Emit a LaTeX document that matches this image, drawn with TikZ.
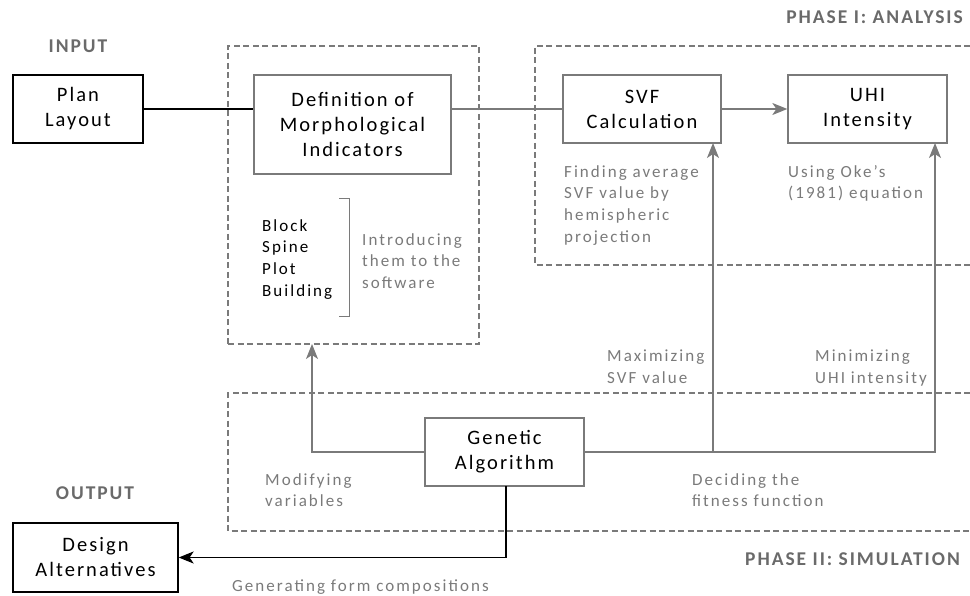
\documentclass[tikz,border=0pt]{standalone}
\usepackage{fontspec}
\setmainfont{Carlito}
\newfontfamily\boxfont[LetterSpace=10]{Carlito}
\newfontfamily\notefont[LetterSpace=12]{Carlito}
\newfontfamily\headfont[LetterSpace=10]{Carlito Bold}
\usetikzlibrary{arrows.meta}
\definecolor{lgray}{HTML}{7A7A7A}
\definecolor{dgray}{HTML}{6A6A6A}
\tikzset{
  blackbox/.style={draw=black, line width=1.3pt, minimum width=#1, align=center, inner sep=0pt,
    font=\boxfont\fontsize{20.5}{25}\selectfont},
  graybox/.style={draw=lgray, line width=1.3pt, minimum width=#1, align=center, inner sep=0pt,
    font=\boxfont\fontsize{20.5}{25}\selectfont},
  note/.style={anchor=north west, align=left, inner sep=0pt, text=lgray,
    font=\notefont\fontsize{17}{21.7}\selectfont},
  head/.style={inner sep=0pt, text=dgray, font=\headfont\fontsize{19.5}{22}\selectfont},
  dashbox/.style={draw=lgray, line width=1.2pt, dash pattern=on 6pt off 3.5pt},
  gline/.style={draw=lgray, line width=1.3pt},
  garrow/.style={gline, -{Stealth[length=15pt,width=12pt,inset=4pt]}},
  barrow/.style={draw=black, line width=1.3pt, -{Stealth[length=15pt,width=12pt,inset=4pt]}},
}
\begin{document}
\begin{tikzpicture}[x=1pt,y=-1pt]
\useasboundingbox (0,0) rectangle (970,596);
% dashed regions
\node[dashbox, minimum width=251pt, minimum height=298pt, inner sep=0pt] (box1) at (353.5,195) {};
\draw[dashbox] (970,46) -- (535,46) -- (535,265) -- (970,265);
\draw[dashbox] (970,393) -- (228,393) -- (228,531) -- (970,531);
% headers
\node[head] (hin) at (78,46) {INPUT};
\node[head] (hout) at (95,493) {OUTPUT};
\node[head, anchor=east] (hp1) at (963,17) {PHASE I: ANALYSIS};
\node[head, anchor=east] (hp2) at (960,559) {PHASE II: SIMULATION};
% boxes
\node[blackbox=130pt, minimum height=68pt] (plan) at (78,109) {Plan\\Layout};
\node[graybox=197pt, minimum height=99pt] (def) at (352.5,124.5) {Definition of\\Morphological\\Indicators};
\node[graybox=158pt, minimum height=68pt] (svf) at (642,109) {SVF\\Calculation};
\node[graybox=159pt, minimum height=68pt] (uhi) at (867.5,109) {UHI\\Intensity};
\node[graybox=159pt, minimum height=68pt] (ga) at (504.5,452) {Genetic\\Algorithm};
\node[blackbox=165pt, minimum height=69pt] (des) at (95.5,557.5) {Design\\Alternatives};
% coordinates
\coordinate (svfin) at (713,143);
\coordinate (uhiin) at (935,143);
\coordinate (defin) at (312,344);
\coordinate (gadown) at (506,486);
% connectors
\draw[line width=1.3pt] (plan.east) -- (plan.east -| def.west);
\draw[gline] (svf.west -| def.east) -- (svf.west);
\draw[garrow] (svf.east) -- (uhi.west);
\draw[garrow] (ga.east) -| (uhiin);
\draw[garrow] (ga.east -| svfin) -- (svfin);
\draw[garrow] (ga.west) -| (defin);
\draw[barrow] (gadown) |- (des.east);
% bracket
\draw[lgray, line width=1pt] (339,199) -- (349,199) -- (349,317) -- (339,317);
% notes
\node[note, text=black] (list) at (262,219) {Block\\Spine\\Plot\\Building};
\node[note] (intro) at (362,233) {Introducing\\them to the\\software};
\node[note] (find) at (564,165) {Finding average\\SVF value by\\hemispheric\\projection};
\node[note] (oke) at (788,165) {Using Oke’s\\(1981) equation};
\node[note] (max) at (607,350) {Maximizing\\SVF value};
\node[note] (min) at (815,350) {Minimizing\\UHI intensity};
\node[note] (mod) at (265,473) {Modifying\\variables};
\node[note] (fit) at (692,473) {Deciding the\\fitness function};
\node[note] (gen) at (232,580) {Generating form compositions};
\end{tikzpicture}
\end{document}
